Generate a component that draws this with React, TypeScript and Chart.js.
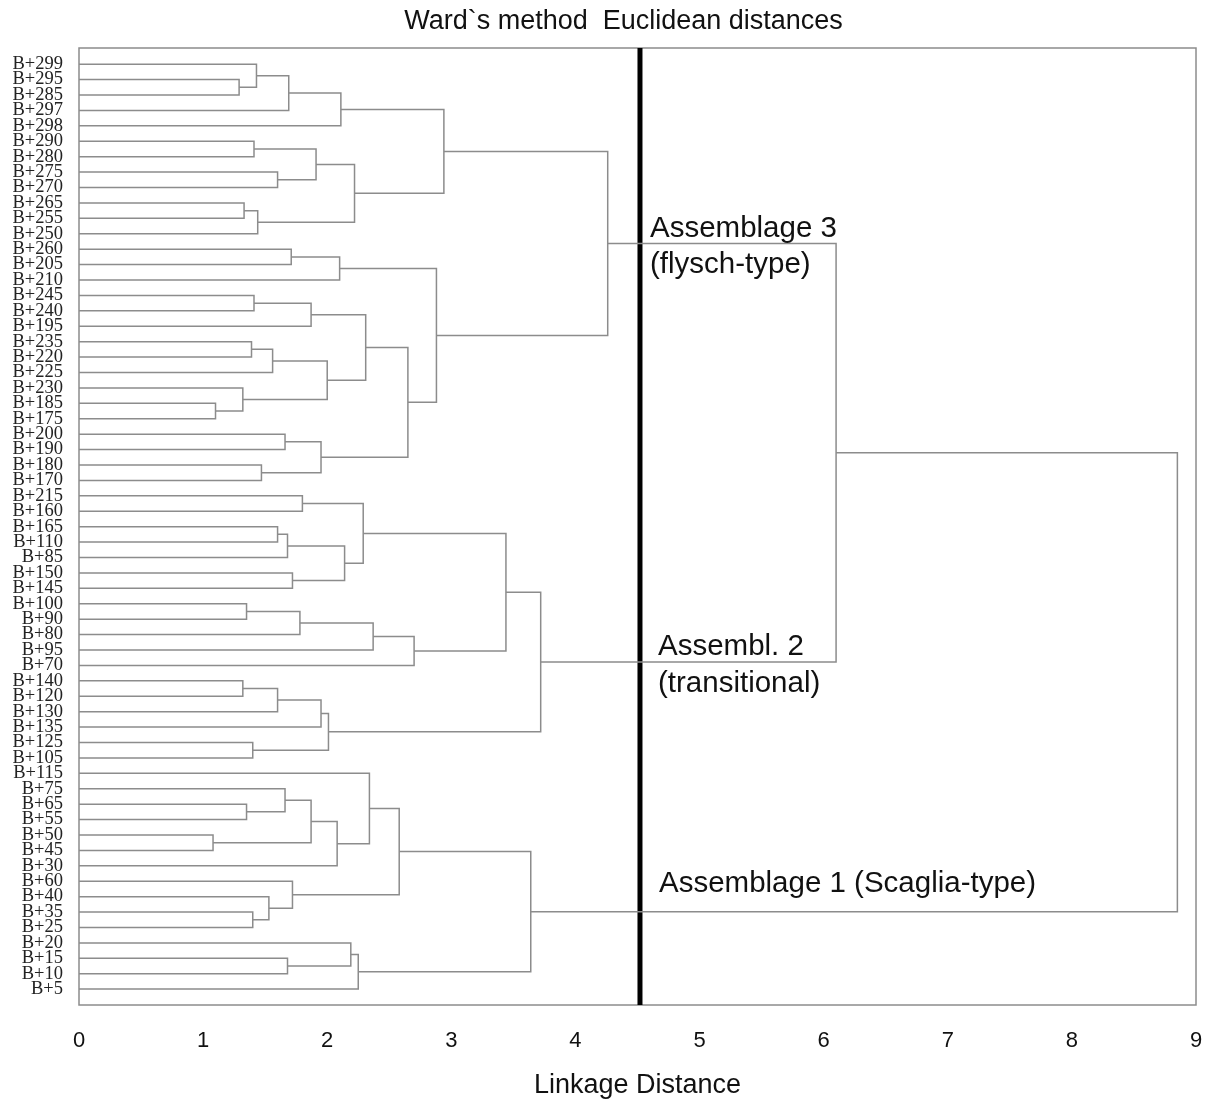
import React, { useEffect, useRef } from "react";
import { Chart, registerables } from "chart.js";

Chart.register(...registerables);

// Leaf order (top to bottom)
const LEAVES = [
  "B+299", "B+295", "B+285", "B+297", "B+298", "B+290", "B+280", "B+275", "B+270", "B+265",
  "B+255", "B+250", "B+260", "B+205", "B+210", "B+245", "B+240", "B+195", "B+235", "B+220",
  "B+225", "B+230", "B+185", "B+175", "B+200", "B+190", "B+180", "B+170", "B+215", "B+160",
  "B+165", "B+110", "B+85", "B+150", "B+145", "B+100", "B+90", "B+80", "B+95", "B+70",
  "B+140", "B+120", "B+130", "B+135", "B+125", "B+105", "B+115", "B+75", "B+65", "B+55",
  "B+50", "B+45", "B+30", "B+60", "B+40", "B+35", "B+25", "B+20", "B+15", "B+10", "B+5",
];

// Merge steps: child references are leaf labels or "#k" (the k-th merge)
const MERGE_LEFT = [
  "B+295", "B+299", "#1", "#2", "B+290", "B+275", "#4", "B+265", "#7", "#6",
  "#3", "B+260", "#11", "B+245", "#13", "B+235", "#15", "B+185", "B+230", "#16",
  "#14", "B+200", "B+180", "#21", "#20", "#12", "#10", "B+215", "B+165", "#28",
  "B+150", "#29", "#27", "B+100", "#33", "#34", "#35", "#32", "B+140", "#38",
  "#39", "B+125", "#40", "#37", "B+65", "B+75", "B+50", "#45", "#47", "B+115",
  "B+35", "B+40", "B+60", "#49", "B+15", "B+20", "#55", "#53", "#26", "#58",
];
const MERGE_RIGHT = [
  "B+285", "#0", "B+297", "B+298", "B+280", "B+270", "#5", "B+255", "B+250", "#8",
  "#9", "B+205", "B+210", "B+240", "B+195", "B+220", "B+225", "B+175", "#17", "#18",
  "#19", "B+190", "B+170", "#22", "#23", "#24", "#25", "B+160", "B+110", "B+85",
  "B+145", "#30", "#31", "B+90", "B+80", "B+95", "B+70", "#36", "B+120", "B+130",
  "B+135", "B+105", "#41", "#42", "B+55", "#44", "B+45", "#46", "B+30", "#48",
  "B+25", "#50", "#51", "#52", "B+10", "#54", "B+5", "#56", "#43", "#57",
];
const MERGE_HEIGHT = [
  1.29, 1.43, 1.69, 2.11, 1.41, 1.60, 1.91, 1.33, 1.44, 2.22,
  2.94, 1.71, 2.10, 1.41, 1.87, 1.39, 1.56, 1.10, 1.32, 2.00,
  2.31, 1.66, 1.47, 1.95, 2.65, 2.88, 4.26, 1.80, 1.60, 1.68,
  1.72, 2.14, 2.29, 1.35, 1.78, 2.37, 2.70, 3.44, 1.32, 1.60,
  1.95, 1.40, 2.01, 3.72, 1.35, 1.66, 1.08, 1.87, 2.08, 2.34,
  1.40, 1.53, 1.72, 2.58, 1.68, 2.19, 2.25, 3.64, 6.10, 8.85,
];

const CUT_DISTANCE = 4.52;
const X_TICKS = [0, 1, 2, 3, 4, 5, 6, 7, 8, 9];

const ANNOTATION_TEXT = [
  ["Assemblage 3", "(flysch-type)"],
  ["Assembl. 2", "(transitional)"],
  ["Assemblage 1 (Scaglia-type)"],
];
const ANNOTATION_CLUSTER = ["#26", "#43", "#57"];

const TITLE = "Ward`s method  Euclidean distances";
const X_TITLE = "Linkage Distance";

// ---- tree layout (derived from the data above) ----
const mergeY: number[] = [];
function resolve(ref: string): { y: number; h: number } {
  if (ref.startsWith("#")) {
    const k = parseInt(ref.slice(1), 10);
    return { y: mergeY[k], h: MERGE_HEIGHT[k] };
  }
  return { y: LEAVES.indexOf(ref), h: 0 };
}
const segments: { x: number; y: number }[][] = [];
for (let k = 0; k < MERGE_HEIGHT.length; k++) {
  const a = resolve(MERGE_LEFT[k]);
  const b = resolve(MERGE_RIGHT[k]);
  const H = MERGE_HEIGHT[k];
  mergeY[k] = (a.y + b.y) / 2;
  segments.push([
    { x: a.h, y: a.y },
    { x: H, y: a.y },
    { x: H, y: b.y },
    { x: b.h, y: b.y },
  ]);
}

const Y_MIN = -1.05;
const Y_MAX = 61.03;
const LINE_COLOR = "#8c8c8c";
const SANS = "'Liberation Sans', Arial, sans-serif";
const SERIF = "'Liberation Serif', 'Times New Roman', serif";

// annotation layout: dx from cut line, baseline offsets per line
const ANNOTATION_DX = [10, 18, 19];
const ANNOTATION_DY = [[-6, 30], [-7, 30], [-20]];

export default function App() {
  const canvasRef = useRef<HTMLCanvasElement | null>(null);

  useEffect(() => {
    if (!canvasRef.current) return;

    const framePlugin = {
      id: "frame",
      beforeDatasetsDraw(chart: any) {
        const { ctx, chartArea } = chart;
        ctx.save();
        ctx.strokeStyle = LINE_COLOR;
        ctx.lineWidth = 1.5;
        ctx.strokeRect(chartArea.left, chartArea.top, chartArea.right - chartArea.left, chartArea.bottom - chartArea.top);
        ctx.restore();
      },
    };

    const titlePlugin = {
      id: "plainTitle",
      afterDraw(chart: any) {
        const { ctx, chartArea } = chart;
        ctx.save();
        ctx.font = `27px ${SANS}`;
        ctx.fillStyle = "#111";
        ctx.textAlign = "center";
        ctx.textBaseline = "middle";
        ctx.fillText(TITLE, (chartArea.left + chartArea.right) / 2 - 14, chartArea.top - 26);
        ctx.restore();
      },
    };

    const annotationPlugin = {
      id: "assemblages",
      afterDatasetsDraw(chart: any) {
        const { ctx, scales } = chart;
        const xPix = scales.x.getPixelForValue(CUT_DISTANCE);
        ctx.save();
        ctx.font = `29.5px ${SANS}`;
        ctx.fillStyle = "#111";
        ctx.textAlign = "left";
        ctx.textBaseline = "alphabetic";
        ANNOTATION_TEXT.forEach((lines, i) => {
          const node = resolve(ANNOTATION_CLUSTER[i]);
          const yPix = scales.y.getPixelForValue(node.y);
          lines.forEach((t, j) => {
            ctx.fillText(t, xPix + ANNOTATION_DX[i], yPix + ANNOTATION_DY[i][j]);
          });
        });
        ctx.restore();
      },
    };

    const datasets: any[] = segments.map((seg) => ({
      data: seg,
      showLine: true,
      borderColor: LINE_COLOR,
      borderWidth: 1.5,
      pointRadius: 0,
      tension: 0,
      fill: false,
    }));
    datasets.push({
      data: [
        { x: CUT_DISTANCE, y: Y_MIN },
        { x: CUT_DISTANCE, y: Y_MAX },
      ],
      showLine: true,
      borderColor: "#000",
      borderWidth: 5,
      pointRadius: 0,
      fill: false,
    });

    const chart = new Chart(canvasRef.current, {
      type: "scatter",
      data: { datasets },
      plugins: [framePlugin, annotationPlugin, titlePlugin],
      options: {
        animation: false,
        responsive: false,
        layout: { padding: { left: 0, right: 13, top: 48, bottom: 0 } },
        plugins: {
          legend: { display: false },
          tooltip: { enabled: false },
          title: { display: false },
        },
        scales: {
          x: {
            type: "linear",
            min: 0,
            max: 9,
            afterBuildTicks: (scale: any) => {
              scale.ticks = X_TICKS.map((v) => ({ value: v }));
            },
            afterFit: (scale: any) => {
              scale.height = 97;
              scale.paddingLeft = 0;
              scale.paddingRight = 0;
            },
            grid: { display: false, drawTicks: false },
            border: { display: false },
            ticks: {
              color: "#111",
              font: { family: SANS, size: 22 },
              padding: 23,
              maxRotation: 0,
            },
            title: {
              display: true,
              text: X_TITLE,
              color: "#111",
              font: { family: SANS, size: 27 },
              padding: { top: 0, bottom: 0 },
            },
          },
          y: {
            type: "linear",
            reverse: true,
            min: Y_MIN,
            max: Y_MAX,
            afterBuildTicks: (scale: any) => {
              scale.ticks = LEAVES.map((_, i) => ({ value: i }));
            },
            afterFit: (scale: any) => {
              scale.width = 79;
              scale.paddingTop = 0;
              scale.paddingBottom = 0;
            },
            grid: { display: false, drawTicks: false },
            border: { display: false },
            ticks: {
              autoSkip: false,
              color: "#222",
              font: { family: SERIF, size: 18.5 },
              padding: 16,
              callback: (v: any) => LEAVES[v as number] ?? "",
            },
          },
        },
      },
    } as any);

    return () => chart.destroy();
  }, []);

  return (
    <div style={{ position: "absolute", left: 0, top: 0, width: 1209, height: 1102, background: "#fff" }}>
      <canvas ref={canvasRef} width={1209} height={1102} style={{ display: "block" }} />
    </div>
  );
}
